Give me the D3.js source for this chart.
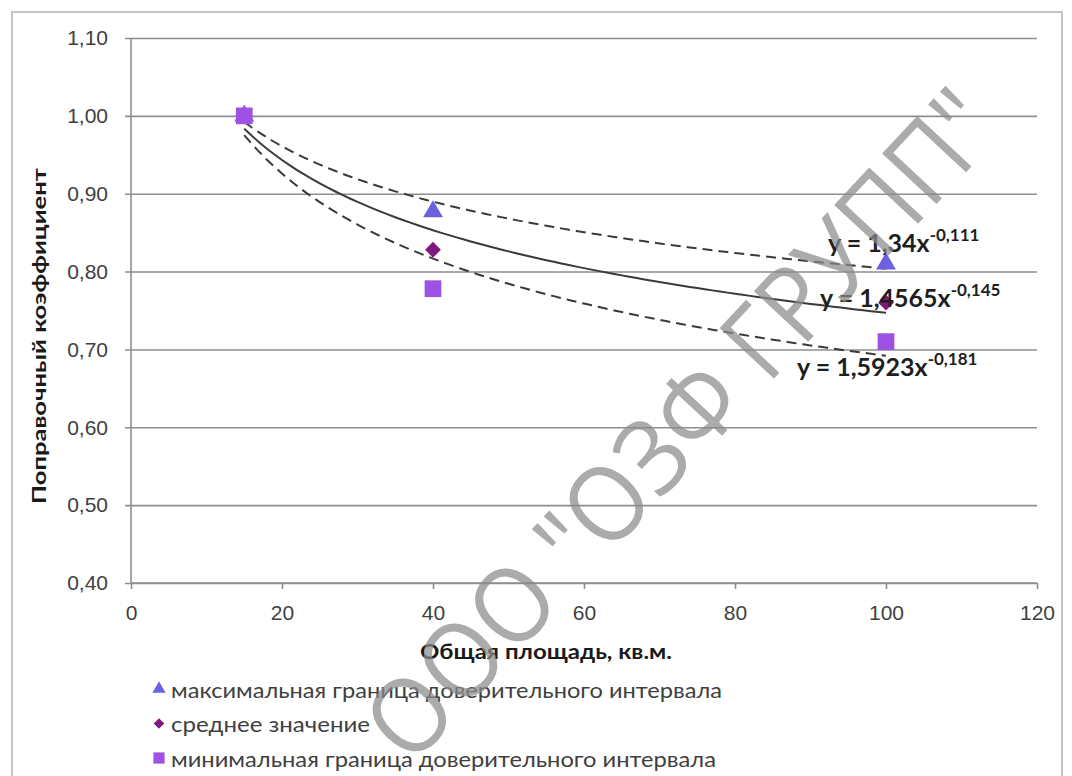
<!DOCTYPE html>
<html>
<head>
<meta charset="utf-8">
<script src="https://cdn.jsdelivr.net/npm/d3@7"></script>
<style>
  body { margin: 0; background: #fff; }
  svg { display: block; font-family: Lato, "Open Sans", sans-serif; }
</style>
</head>
<body>
<svg id="chart" width="1072" height="776"></svg>
<script>
// data
const areas = [15, 40, 100]
const maxValues = [1.00, 0.877, 0.81]
const meanValues = [1.00, 0.828, 0.76]
const minValues = [1.00, 0.778, 0.71]

// power trend lines y = a * x^b, as printed on the chart
const trendA = [1.34, 1.4565, 1.5923]
const trendB = [-0.111, -0.145, -0.181]
const trendLabels = ['y = 1,34x', 'y = 1,4565x', 'y = 1,5923x']
const trendPowLabels = ['-0,111', '-0,145', '-0,181']

const xTicks = [0, 20, 40, 60, 80, 100, 120]
const yTicks = [0.40, 0.50, 0.60, 0.70, 0.80, 0.90, 1.00, 1.10]

const seriesNames = [
  'максимальная граница доверительного интервала',
  'среднее значение',
  'минимальная граница доверительного интервала'
]
const seriesColors = ['#6c62e0', '#80197f', '#9d52e3']

const margin = { top: 38, left: 131, right: 1037, bottom: 583 }
const gridColor = '#8e8e8e'
const textColor = '#404040'

const svg = d3.select('#chart')

// outer frame
svg.append('rect')
  .attr('x', 12).attr('y', 12)
  .attr('width', 1050).attr('height', 772)
  .attr('fill', 'none')
  .attr('stroke', '#c4c4c4')
  .attr('stroke-width', 2)

const x = d3.scaleLinear().domain([0, 120]).range([margin.left, margin.right])
const y = d3.scaleLinear().domain([0.4, 1.1]).range([margin.bottom, margin.top])

const comma = v => d3.format('.2f')(v).replace('.', ',')

// gridlines + y axis
const yAxis = svg.append('g')
  .attr('transform', `translate(${margin.left},0)`)
  .call(d3.axisLeft(y).tickValues(yTicks).tickFormat(comma)
    .tickSize(-(margin.right - margin.left)).tickPadding(23))
yAxis.select('.domain').remove()
yAxis.selectAll('line')
  .attr('x1', -6)
  .attr('stroke', gridColor).attr('stroke-width', 1.6)
yAxis.selectAll('text')
  .attr('fill', textColor).attr('font-size', 21)

svg.append('line')
  .attr('x1', margin.left).attr('x2', margin.left)
  .attr('y1', margin.top).attr('y2', margin.bottom)
  .attr('stroke', gridColor).attr('stroke-width', 1.6)

// x axis
const xAxis = svg.append('g')
  .attr('transform', `translate(0,${margin.bottom})`)
  .call(d3.axisBottom(x).tickValues(xTicks).tickSize(6).tickPadding(16))
xAxis.select('.domain').attr('stroke', gridColor).attr('stroke-width', 1.6)
  .attr('d', `M${margin.left},0H${margin.right}`)
xAxis.selectAll('line').attr('stroke', gridColor).attr('stroke-width', 1.6)
xAxis.selectAll('text').attr('fill', textColor).attr('font-size', 21)

// axis titles
svg.append('text')
  .attr('transform', `translate(46,336) rotate(-90)`)
  .attr('text-anchor', 'middle')
  .attr('font-weight', 'bold')
  .attr('font-size', 19)
  .attr('textLength', 336)
  .attr('lengthAdjust', 'spacingAndGlyphs')
  .attr('fill', '#1a1a1a')
  .text('Поправочный коэффициент')

svg.append('text')
  .attr('x', 546).attr('y', 659)
  .attr('text-anchor', 'middle')
  .attr('font-weight', 'bold')
  .attr('font-size', 20)
  .attr('textLength', 252)
  .attr('lengthAdjust', 'spacingAndGlyphs')
  .attr('fill', '#1a1a1a')
  .text('Общая площадь, кв.м.')

// trend lines
const trendX = d3.range(areas[0], areas[2] + 0.5, 1)
const trendLine = d3.line().x(d => x(d[0])).y(d => y(d[1]))
trendA.forEach((a, i) => {
  svg.append('path')
    .datum(trendX.map(v => [v, a * Math.pow(v, trendB[i])]))
    .attr('fill', 'none')
    .attr('stroke', '#3a3a3a')
    .attr('stroke-width', 2)
    .attr('stroke-dasharray', i === 1 ? null : '10,6')
    .attr('d', trendLine)
})

// markers: triangle, diamond (turned square), square
const marker = (i, scale) => {
  if (i === 0) return d3.symbol().type(d3.symbolTriangle).size(170 * scale)()
  if (i === 1) return d3.symbol().type(d3.symbolSquare).size(125 * scale)()
  return d3.symbol().type(d3.symbolSquare).size(280 * scale)()
}
const seriesValues = [maxValues, meanValues, minValues]
seriesValues.forEach((vals, i) => {
  svg.append('g').selectAll('path')
    .data(vals)
    .join('path')
    .attr('transform', (d, j) => `translate(${x(areas[j])},${y(d)})` + (i === 1 ? ' rotate(45)' : ''))
    .attr('d', marker(i, 1))
    .attr('fill', seriesColors[i])
})

// equation labels
const labelPos = [[828, 252], [820, 307], [797, 376]]
trendLabels.forEach((t, i) => {
  const label = svg.append('text')
    .attr('x', labelPos[i][0]).attr('y', labelPos[i][1])
    .attr('font-weight', 'bold')
    .attr('font-size', 25)
    .attr('fill', '#1e1e1e')
  label.append('tspan').text(t)
  label.append('tspan')
    .attr('dy', -11)
    .attr('font-size', 17)
    .text(trendPowLabels[i])
})

// legend
const legendWidths = [551, 199, 545]
const legend = svg.append('g')
seriesNames.forEach((name, i) => {
  const ly = 689 + i * 34.5
  legend.append('path')
    .attr('transform', `translate(159,${ly})` + (i === 1 ? ' rotate(45)' : ''))
    .attr('d', marker(i, 0.45))
    .attr('fill', seriesColors[i])
  legend.append('text')
    .attr('x', 171).attr('y', ly)
    .attr('dominant-baseline', 'central')
    .attr('font-size', 21)
    .attr('textLength', legendWidths[i])
    .attr('lengthAdjust', 'spacingAndGlyphs')
    .attr('fill', textColor)
    .text(name)
})

// watermark
svg.append('text')
  .attr('transform', 'translate(678,422) rotate(-47)')
  .attr('text-anchor', 'middle')
  .attr('dominant-baseline', 'central')
  .attr('font-family', '"Open Sans", sans-serif')
  .attr('font-size', 104)
  .attr('textLength', 870)
  .attr('lengthAdjust', 'spacingAndGlyphs')
  .attr('fill', '#8a8a8a')
  .attr('fill-opacity', 0.72)
  .text('ООО "ОЗФ ГРУПП"')
</script>
</body>
</html>
